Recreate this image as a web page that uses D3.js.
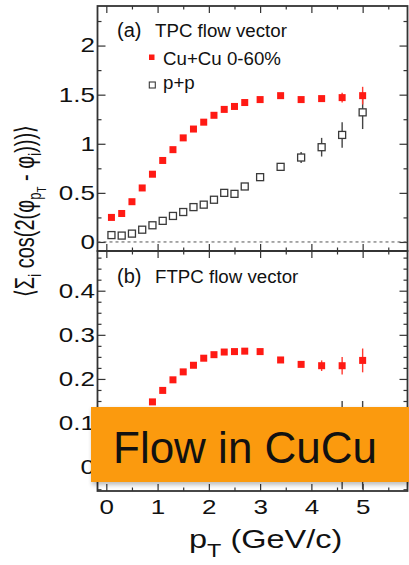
<!DOCTYPE html>
<html>
<head>
<meta charset="utf-8">
<script src="https://cdn.jsdelivr.net/npm/d3@7/dist/d3.min.js"></script>
<style>
  html, body { margin: 0; padding: 0; background: #fff; }
  svg { display: block; }
  text { font-family: "Liberation Sans", Arial, Helvetica, sans-serif; fill: #111; }
</style>
</head>
<body>
<svg id="chart" width="409" height="565"></svg>
<script>
// transverse momentum bins (GeV/c)
const ptTPC = [0.1, 0.3, 0.5, 0.7, 0.9, 1.1, 1.3, 1.5, 1.7, 1.9, 2.1, 2.3, 2.5, 2.7, 3.0, 3.4, 3.8, 4.2, 4.6, 5.0];
// (a) TPC flow vector
const cuTPC    = [0.25, 0.29, 0.41, 0.55, 0.69, 0.83, 0.94, 1.06, 1.15, 1.22, 1.29, 1.35, 1.38, 1.42, 1.45, 1.49, 1.45, 1.46, 1.47, 1.49];
const cuTPCErr = [0.005, 0.005, 0.005, 0.005, 0.005, 0.005, 0.005, 0.005, 0.005, 0.005, 0.005, 0.005, 0.005, 0.005, 0.008, 0.01, 0.012, 0.02, 0.05, 0.09];
const ppTPC    = [0.07, 0.065, 0.085, 0.125, 0.17, 0.215, 0.265, 0.305, 0.355, 0.38, 0.43, 0.50, 0.49, 0.565, 0.66, 0.765, 0.86, 0.965, 1.09, 1.32];
const ppTPCErr = [0.005, 0.005, 0.005, 0.005, 0.005, 0.005, 0.005, 0.005, 0.005, 0.005, 0.006, 0.008, 0.008, 0.01, 0.012, 0.02, 0.055, 0.095, 0.13, 0.17];
// (b) FTPC flow vector
const ptFTPC    = [0.9, 1.1, 1.3, 1.5, 1.7, 1.9, 2.1, 2.3, 2.5, 2.7, 3.0, 3.4, 3.8, 4.2, 4.6, 5.0];
const cuFTPC    = [0.148, 0.174, 0.198, 0.216, 0.231, 0.247, 0.255, 0.261, 0.262, 0.263, 0.262, 0.243, 0.233, 0.230, 0.230, 0.242];
const cuFTPCErr = [0.002, 0.002, 0.002, 0.002, 0.002, 0.002, 0.002, 0.002, 0.002, 0.002, 0.003, 0.004, 0.006, 0.012, 0.02, 0.027];
const ptFTPCpp  = [4.6, 5.0];
const ppFTPC    = [0.05, 0.05];
const ppFTPCErr = [0.1, 0.1];

const xTicks   = [0, 1, 2, 3, 4, 5];
const yTicksA  = [0, 0.5, 1, 1.5, 2];
const yTicksB  = [0, 0.1, 0.2, 0.3, 0.4];
const legendLabels = ["Cu+Cu 0-60%", "p+p"];
const panelTitles  = [["(a)", "TPC flow vector"], ["(b)", "FTPC flow vector"]];
const bannerText = "Flow in CuCu";

const RED = "#ff1a14", GREY = "#333";
const WIDE = 1.3;   // horizontal stretch of the axis lettering
const svg = d3.select("#chart");

const L = 97.5, R = 407.5, T1 = 6, B1 = 251, B2 = 491;
const x  = d3.scaleLinear().domain([-0.172, 5.875]).range([L, R]);
const yA = d3.scaleLinear().domain([-0.092, 2.403]).range([B1, T1]);
const yB = d3.scaleLinear().domain([-0.054, 0.49]).range([B2, B1]);

function rows(xs, ys, es) { return xs.map((v, i) => ({ x: v, y: ys[i], e: es[i] })); }

function minorRange(lo, hi, step) {
  const out = [];
  for (let v = lo; v <= hi + 1e-9; v += step) out.push(+v.toFixed(4));
  return out;
}

function drawAxes(y, top, bottom, yMajor, yMinorStep, showXLabels) {
  const g = svg.append("g");
  const xMinor = minorRange(0, 5.5, 0.5).filter(v => !xTicks.includes(v));
  const [d0, d1] = y.domain();
  const yMinor = minorRange(Math.ceil(d0 / yMinorStep) * yMinorStep, d1, yMinorStep)
    .filter(v => !yMajor.some(t => Math.abs(t - v) < 1e-6));

  // bottom x axis (labels only on lower panel)
  const xb = d3.axisBottom(x).tickValues(xTicks).tickSize(-7).tickPadding(6)
    .tickFormat(showXLabels ? d3.format("d") : () => "");
  const xAxisG = g.append("g").attr("transform", `translate(0,${bottom})`).call(xb);
  xAxisG.selectAll(".tick text").attr("y", 0).attr("dy", 0)
    .attr("transform", `translate(0,23) scale(${WIDE},1)`);
  g.append("g").attr("transform", `translate(0,${bottom})`)
    .call(d3.axisBottom(x).tickValues(xMinor).tickSize(-3.5).tickFormat(() => ""));
  // top x axis
  g.append("g").attr("transform", `translate(0,${top})`)
    .call(d3.axisTop(x).tickValues(xTicks).tickSize(-7).tickFormat(() => ""));
  g.append("g").attr("transform", `translate(0,${top})`)
    .call(d3.axisTop(x).tickValues(xMinor).tickSize(-3.5).tickFormat(() => ""));
  // left y axis
  const yAxisG = g.append("g").attr("transform", `translate(${L},0)`)
    .call(d3.axisLeft(y).tickValues(yMajor).tickSize(-8)
      .tickFormat(d => d === 0 ? "0" : d3.format("~g")(d)));
  yAxisG.selectAll(".tick text").attr("x", 0)
    .attr("transform", `translate(-2.5,0) scale(${WIDE},1)`);
  g.append("g").attr("transform", `translate(${L},0)`)
    .call(d3.axisLeft(y).tickValues(yMinor).tickSize(-4).tickFormat(() => ""));
  // right y axis
  g.append("g").attr("transform", `translate(${R},0)`)
    .call(d3.axisRight(y).tickValues(yMajor).tickSize(-8).tickFormat(() => ""));
  g.append("g").attr("transform", `translate(${R},0)`)
    .call(d3.axisRight(y).tickValues(yMinor).tickSize(-4).tickFormat(() => ""));

  g.selectAll(".domain").remove();
  g.selectAll(".tick line").attr("stroke", GREY).attr("stroke-width", 1.2);
  g.selectAll(".tick text").attr("fill", "#111")
    .style("font-family", '"Liberation Sans", Arial, sans-serif').style("font-size", "20px");

  // frame
  svg.append("rect").attr("x", L).attr("y", top).attr("width", R - L).attr("height", bottom - top)
    .attr("fill", "none").attr("stroke", GREY).attr("stroke-width", 1.8);
}

function drawSeries(y, data, filled) {
  const g = svg.append("g");
  const s = 7;
  g.selectAll("line.err").data(data).join("line")
    .attr("x1", d => x(d.x)).attr("x2", d => x(d.x))
    .attr("y1", d => y(d.y - d.e)).attr("y2", d => y(d.y + d.e))
    .attr("stroke", filled ? "#ff3a30" : "#444").attr("stroke-width", 1.4);
  g.selectAll("rect").data(data).join("rect")
    .attr("x", d => x(d.x) - s / 2).attr("y", d => y(d.y) - s / 2)
    .attr("width", s).attr("height", s)
    .attr("fill", filled ? RED : "#fff")
    .attr("stroke", filled ? "none" : "#3a3a3a").attr("stroke-width", filled ? 0 : 1.3);
}

// ----- panel (a) -----
drawAxes(yA, T1, B1, yTicksA, 0.25, false);
svg.append("line").attr("x1", L).attr("x2", R).attr("y1", yA(0)).attr("y2", yA(0))
  .attr("stroke", "#555").attr("stroke-width", 1).attr("stroke-dasharray", "3,3");
drawSeries(yA, rows(ptTPC, ppTPC, ppTPCErr), false);
drawSeries(yA, rows(ptTPC, cuTPC, cuTPCErr), true);

// ----- panel (b) -----
drawAxes(yB, B1, B2, yTicksB, 0.025, true);
svg.append("line").attr("x1", L).attr("x2", R).attr("y1", yB(0)).attr("y2", yB(0))
  .attr("stroke", "#555").attr("stroke-width", 1).attr("stroke-dasharray", "3,3");
drawSeries(yB, rows(ptFTPCpp, ppFTPC, ppFTPCErr), false);
drawSeries(yB, rows(ptFTPC, cuFTPC, cuFTPCErr), true);

// panel titles
[36.7, 282.5].forEach((yPos, i) => {
  const t = svg.append("text").attr("x", 117).attr("y", yPos).style("font-size", "18.7px");
  t.append("tspan").text(panelTitles[i][0]).style("font-size", "20px");
  t.append("tspan").attr("x", 155).text(panelTitles[i][1]);
});

// legend
const leg = svg.append("g");
leg.append("rect").attr("x", 149).attr("y", 54.5).attr("width", 5.5).attr("height", 5.5).attr("fill", RED);
leg.append("rect").attr("x", 149.3).attr("y", 82).attr("width", 6).attr("height", 6)
  .attr("fill", "#fff").attr("stroke", "#3a3a3a").attr("stroke-width", 1.1);
leg.append("text").attr("x", 163).attr("y", 65).style("font-size", "18.7px").text(legendLabels[0]);
leg.append("text").attr("x", 163).attr("y", 88.5).style("font-size", "18.7px").text(legendLabels[1]);

// x axis title
const xt = svg.append("text").attr("transform", `translate(189,548) scale(${WIDE},1)`)
  .style("font-size", "25px");
xt.append("tspan").text("p");
xt.append("tspan").attr("dy", 9).style("font-size", "18px").text("T");
xt.append("tspan").attr("dy", -9).text(" (GeV/c)");

// y axis title
const yt = svg.append("text").attr("transform", "translate(34,211) rotate(-90) scale(1,1.35)")
  .attr("text-anchor", "middle").style("font-size", "20px");
yt.append("tspan").text("⟨Σ");
yt.append("tspan").attr("dy", 5).style("font-size", "13px").text("i");
yt.append("tspan").attr("dy", -5).text(" cos(2(φ");
yt.append("tspan").attr("dy", 5).style("font-size", "13px").text("p");
yt.append("tspan").attr("dy", 4).style("font-size", "10px").text("T");
yt.append("tspan").attr("dy", -9).text(" - φ");
yt.append("tspan").attr("dy", 5).style("font-size", "13px").text("i");
yt.append("tspan").attr("dy", -5).text(")))⟩");

// banner
const defs = svg.append("defs");
const f = defs.append("filter").attr("id", "shade").attr("x", "-5%").attr("y", "-20%").attr("width", "110%").attr("height", "150%");
f.append("feGaussianBlur").attr("stdDeviation", 2);
svg.append("rect").attr("x", 92).attr("y", 409).attr("width", 320).attr("height", 76)
  .attr("fill", "#000").attr("opacity", 0.25).attr("filter", "url(#shade)");
svg.append("rect").attr("x", 91).attr("y", 407).attr("width", 320).attr("height", 75).attr("fill", "#fb9a0e");
svg.append("text").attr("x", 113).attr("y", 462.5).style("font-size", "44px").text(bannerText);
</script>
</body>
</html>
